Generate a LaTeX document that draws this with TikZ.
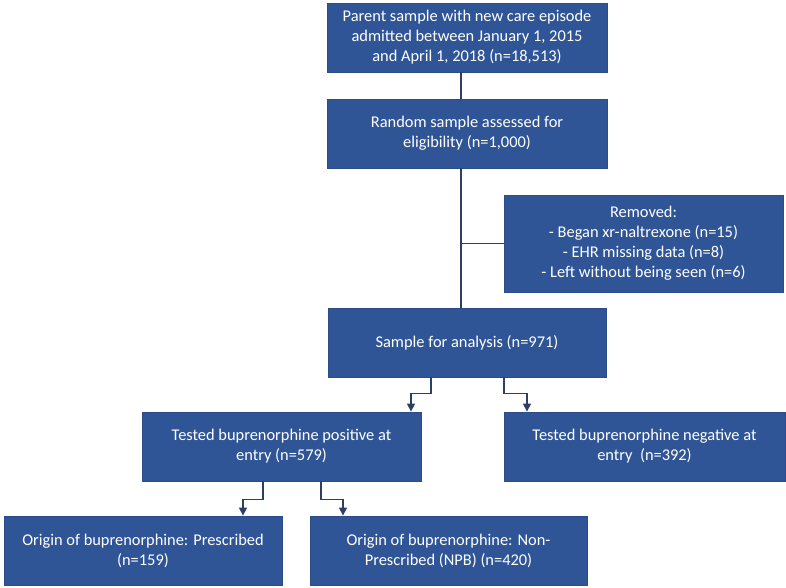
\documentclass[tikz,border=0pt]{standalone}
\usepackage{fontspec}
\setmainfont{Carlito}
\usepackage{tikz}
\usetikzlibrary{positioning}
\usetikzlibrary{arrows.meta}
\usetikzlibrary{calc}

\definecolor{boxblue}{HTML}{2F5597}
\definecolor{boxedge}{HTML}{2A4C88}
\definecolor{linkblue}{HTML}{2E3F66}

\begin{document}
\begin{tikzpicture}[x=1pt, y=-1pt,
    box/.style={draw=boxedge, line width=0.8pt, fill=boxblue, text=white, align=center,
        minimum height=69pt, inner sep=2pt, font=\fontsize{16.4}{20}\selectfont},
    link/.style={draw=linkblue, line width=1.3pt},
    arrow/.style={link, -{Triangle[length=8pt,width=8pt]}}]
    \useasboundingbox (0,0) rectangle (786,588);
    % boxes, top to bottom
    \node[box, minimum width=280pt] (parent) at (467,37.5)
        {Parent sample with new care episode\\admitted between January 1, 2015\\and April 1, 2018 (n=18,513)};
    \node[box, minimum width=280pt] (random) at (467,133.5)
        {Random sample assessed for\\eligibility (n=1,000)};
    \node[box, minimum width=279pt, minimum height=97pt] (removed) at (643.5,243.5)
        {Removed:\\- Began xr-naltrexone (n=15)\\- EHR missing data (n=8)\\- Left without being seen (n=6)};
    \node[box, minimum width=278pt] (sample) at (467,342.5)
        {Sample for analysis (n=971)};
    \node[box, minimum width=279pt] (positive) at (281.5,446.5)
        {Tested buprenorphine positive at\\entry (n=579)};
    \node[box, minimum width=281pt] (negative) at (644.5,446.5)
        {Tested buprenorphine negative at\\entry\ \ (n=392)};
    \node[box, minimum width=278pt] (prescribed) at (143,550.5)
        {Origin of buprenorphine: Prescribed\\(n=159)};
    \node[box, minimum width=277pt] (nonpresc) at (448.5,550.5)
        {Origin of buprenorphine: Non-\\Prescribed (NPB) (n=420)};
    % trunk, a little left of the box centres
    \draw[link] ([xshift=-6pt]parent.south) -- ([xshift=-6pt]random.north);
    \draw[link] ([xshift=-6pt]random.south) -- ([xshift=-6pt]sample.north);
    \draw[link] (removed.west) -- ++(-43,0);
    % elbow arrows
    \draw[arrow] ([xshift=-36pt]sample.south) -- ++(0,16) -| ([xshift=129.5pt]positive.north);
    \draw[arrow] ([xshift=37pt]sample.south) -- ++(0,16) -| ([xshift=-117.5pt]negative.north);
    \draw[arrow] ([xshift=-18.5pt]positive.south) -- ++(0,18) -| ([xshift=100pt]prescribed.north);
    \draw[arrow] ([xshift=39.5pt]positive.south) -- ++(0,18) -| ([xshift=-105.5pt]nonpresc.north);
\end{tikzpicture}
\end{document}
